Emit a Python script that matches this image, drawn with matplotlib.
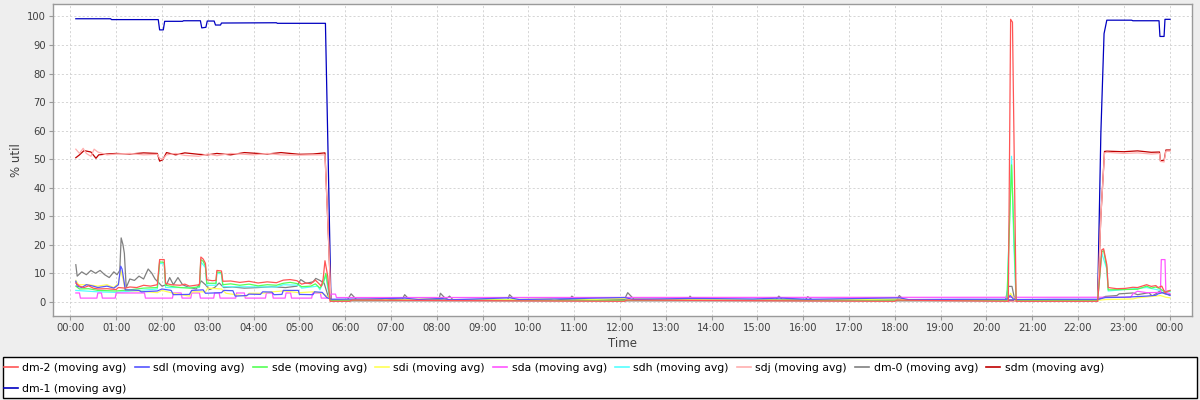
import matplotlib
matplotlib.use("Agg")
import matplotlib.pyplot as plt
from matplotlib.patches import Rectangle

# ---------------- data (hours since 00:00, % util) ----------------
series_names = ["dm-2", "sdl", "sde", "sdi", "sda", "sdh", "sdj", "dm-0", "sdm", "dm-1"]
series_colors = ["#FF5555", "#5555FF", "#55FF55", "#FFFF55", "#FF55FF",
                 "#55FFFF", "#FFAFAF", "#808080", "#C00000", "#0000C0"]

t_dm2 = [0.12, 0.2, 0.3, 0.4, 0.5, 0.6, 0.8, 1.0, 1.05, 1.2, 1.3, 1.45, 1.6, 1.75, 1.9, 1.95,
         2.05, 2.08, 2.2, 2.4, 2.5, 2.6, 2.82, 2.85, 2.9, 2.95, 2.98, 3.1, 3.18, 3.2, 3.3, 3.33,
         3.5, 3.7, 3.9, 4.1, 4.3, 4.5, 4.65, 4.8, 4.95, 5.05, 5.15, 5.25, 5.35, 5.42, 5.48,
         5.52, 5.56, 5.62, 5.67, 6.1, 6.15, 12.1, 12.15, 18.0, 18.05, 20.48, 20.53, 20.57,
         20.65, 22.43, 22.52, 22.56, 22.63, 22.66, 22.85, 23.03, 23.2, 23.3, 23.5, 23.6, 23.7,
         23.75, 23.83, 23.9, 23.95, 24.01]
v_dm2 = [6.6, 5.5, 5.0, 5.6, 4.8, 4.5, 4.6, 4.3, 5.0, 4.8, 5.2, 5.0, 5.8, 5.5, 6.0, 14.8,
         14.8, 6.5, 6.0, 5.8, 6.2, 5.5, 6.0, 15.7, 15.0, 13.5, 7.7, 7.4, 7.5, 11.0, 10.8, 7.2,
         7.3, 6.8, 7.2, 6.6, 7.0, 6.7, 7.6, 7.8, 7.4, 6.2, 6.6, 6.3, 7.6, 6.5, 5.5,
         8.0, 14.4, 9.0, 0.2, 0.2, 0.6, 0.2, 0.6, 0.2, 0.6, 0.2, 99.0, 98.0,
         0.2, 0.2, 18.2, 18.6, 13.0, 5.0, 4.6, 4.7, 5.1, 5.0, 6.0, 5.4, 5.7,
         5.0, 5.5, 3.2, 3.7, 4.0]

t_sdl = [0.12, 0.15, 0.25, 0.35, 0.5, 0.6, 0.8, 0.95, 1.05, 1.1, 1.13, 1.16, 1.2, 1.5, 1.55, 1.9,
         2.0, 2.2, 2.25, 2.6, 2.65, 2.9, 2.95, 3.3, 3.35, 3.55, 3.6, 3.85, 3.9, 4.15, 4.2, 4.4,
         4.45, 4.62, 4.65, 4.98, 5.0, 5.3, 5.33, 5.5, 5.6, 5.7, 6.5, 7.3, 7.6, 8.1, 8.3, 9.6,
         9.8, 10.9, 12.1, 12.3, 13.5, 14.9, 15.5, 16.1, 17.0, 18.1, 18.3, 19.5, 20.45, 20.52,
         20.6, 21.5, 22.45, 22.6, 23.0, 23.5, 23.7, 23.75, 23.85, 23.92, 24.01]
v_sdl = [7.2, 5.5, 5.0, 6.0, 5.5, 5.0, 5.5, 4.8, 6.0, 12.5, 11.5, 8.5, 4.2, 4.0, 3.5, 3.8,
         4.5, 4.0, 2.5, 2.6, 4.0, 4.2, 3.0, 3.2, 4.0, 3.9, 2.0, 2.2, 2.7, 2.6, 3.5, 3.4,
         2.5, 2.6, 4.0, 4.0, 2.6, 2.5, 3.5, 3.3, 1.5, 0.9, 1.0, 1.3, 0.8, 1.2, 0.7, 1.4,
         0.8, 1.1, 1.5, 0.8, 1.2, 1.0, 1.3, 0.9, 1.1, 1.4, 0.8, 0.9, 0.9, 2.2,
         0.8, 0.9, 0.9, 1.5, 1.6, 2.0, 2.3, 2.8, 3.2, 2.8, 2.2]

t_sde = [0.12, 0.2, 0.4, 0.6, 1.0, 1.3, 1.6, 1.9, 1.95, 2.05, 2.08, 2.25, 2.4, 2.6, 2.82, 2.85,
         2.9, 2.95, 2.98, 3.18, 3.2, 3.3, 3.33, 3.5, 3.7, 3.9, 4.1, 4.3, 4.5, 4.65, 4.8, 4.95,
         5.05, 5.25, 5.35, 5.45, 5.52, 5.58, 5.63, 5.68, 20.45, 20.55, 20.6, 20.65, 22.43,
         22.52, 22.56, 22.63, 22.66, 23.3, 23.5, 23.6, 23.7, 23.8, 23.9, 24.01]
v_sde = [5.5, 4.5, 4.6, 4.0, 3.8, 4.2, 4.8, 5.0, 14.0, 13.8, 5.8, 5.3, 5.0, 4.8, 5.3, 14.8,
         14.2, 12.5, 6.5, 6.5, 10.5, 10.2, 6.0, 6.3, 5.8, 6.2, 5.6, 6.0, 5.8, 6.5, 6.8, 6.4,
         5.3, 5.5, 6.3, 4.8, 6.5, 10.0, 5.0, 0.5, 0.5, 48.0, 25.0, 0.5, 0.5,
         17.5, 18.0, 12.0, 4.2, 4.4, 5.5, 4.8, 5.2, 4.5, 3.5, 3.8]

t_sdi = [0.12, 0.18, 0.4, 0.6, 0.8, 0.95, 1.05, 1.1, 1.15, 1.2, 1.5, 1.9, 2.0, 2.25, 2.6, 2.65,
         2.95, 3.0, 3.3, 3.4, 3.6, 3.85, 3.9, 4.2, 4.4, 4.65, 5.0, 5.3, 5.5, 5.6, 5.7, 6.8, 7.0,
         8.1, 8.3, 10.5, 10.7, 12.1, 12.3, 14.0, 16.0, 18.1, 18.3, 20.45, 20.53, 20.62, 22.43,
         22.6, 23.2, 23.3, 23.8, 23.92, 24.01]
v_sdi = [7.5, 6.0, 6.0, 5.5, 6.0, 5.0, 6.5, 11.0, 8.0, 4.0, 3.8, 3.2, 4.0, 3.0, 2.0, 3.5,
         3.5, 4.8, 4.5, 3.0, 2.5, 2.0, 3.0, 3.0, 3.5, 3.8, 3.2, 3.5, 3.0, 2.0, 0.6, 1.0, 0.5,
         1.2, 0.5, 1.0, 0.4, 1.2, 0.5, 0.8, 0.5, 1.0, 0.5, 0.5, 3.0, 0.5, 0.5,
         0.8, 1.0, 1.4, 2.2, 1.6, 1.4]

t_sda = [0.12, 0.2, 0.22, 0.58, 0.6, 0.68, 0.7, 0.98, 1.0, 1.62, 1.64, 2.23, 2.25, 2.42, 2.44,
         2.63, 2.65, 2.82, 2.84, 3.13, 3.15, 3.25, 3.27, 3.61, 3.63, 3.8, 3.82, 4.26, 4.28, 4.41,
         4.43, 4.69, 4.71, 4.81, 4.83, 5.27, 5.29, 5.46, 5.48, 5.67, 5.69, 5.79, 5.81, 22.45,
         23.15, 23.2, 23.3, 23.5, 23.8, 23.82, 23.9, 23.92, 24.01]
v_sda = [3.1, 3.1, 1.3, 1.3, 3.1, 3.1, 1.3, 1.3, 3.1, 3.1, 1.3, 1.3, 3.1, 3.1, 1.3,
         1.3, 3.1, 3.1, 1.3, 1.3, 3.1, 3.1, 1.3, 1.3, 3.1, 3.1, 1.3, 1.3, 3.1, 3.1,
         1.3, 1.3, 3.1, 3.1, 1.3, 1.3, 3.1, 3.1, 1.3, 1.3, 2.7, 2.7, 1.5, 1.6,
         1.6, 2.8, 3.7, 3.2, 3.3, 14.8, 14.8, 3.4, 2.8]

t_sdh = [0.12, 0.6, 1.0, 1.9, 1.95, 2.05, 2.08, 2.82, 2.85, 2.95, 2.98, 3.18, 3.2, 3.3, 3.33,
         4.5, 4.65, 5.0, 5.05, 5.4, 5.45, 5.58, 5.65, 5.69, 20.45, 20.55, 20.6, 20.65, 22.43,
         22.52, 22.63, 22.66, 23.5, 23.8, 24.01]
v_sdh = [4.0, 3.5, 3.3, 4.5, 13.5, 13.3, 5.0, 5.0, 14.0, 12.0, 5.8, 5.8, 10.0, 9.8, 5.3,
         5.2, 6.0, 5.8, 4.8, 5.5, 4.2, 9.0, 2.0, 0.4, 0.4, 51.0, 20.0, 0.4, 0.4,
         17.0, 11.5, 3.8, 5.0, 4.0, 3.5]

t_sdj = [0.12, 0.2, 0.28, 0.35, 0.45, 0.52, 0.6, 0.8, 1.0, 1.3, 1.6, 1.9, 1.95, 2.02, 2.1, 2.3,
         2.5, 2.8, 3.0, 3.2, 3.5, 3.8, 4.0, 4.3, 4.6, 5.0, 5.3, 5.56, 5.63, 5.69, 22.43, 22.5,
         22.58, 22.63, 23.0, 23.3, 23.6, 23.78, 23.8, 23.88, 23.92, 24.01]
v_sdj = [53.5, 52.0, 53.8, 52.0, 51.0, 53.5, 52.5, 51.5, 51.8, 52.0, 51.5, 51.7, 50.3, 50.0, 51.5,
         52.0, 51.3, 51.0, 51.8, 51.2, 52.0, 51.7, 51.5, 52.0, 51.5, 51.4, 51.5, 51.5, 25.0, 0.2,
         0.2, 30.0, 52.2, 52.4, 52.0, 52.2, 51.8, 52.0, 49.2, 49.0, 52.8, 52.8]

t_dm0 = [0.12, 0.15, 0.25, 0.35, 0.45, 0.55, 0.65, 0.75, 0.85, 0.95, 1.02, 1.08, 1.11, 1.15, 1.18,
         1.22, 1.3, 1.4, 1.5, 1.6, 1.7, 1.78, 1.85, 1.91, 2.0, 2.1, 2.17, 2.25, 2.35, 2.45, 2.6,
         2.75, 2.86, 2.95, 3.04, 3.15, 3.25, 3.35, 3.54, 3.8, 4.1, 4.4, 4.7, 4.95, 5.03, 5.15,
         5.3, 5.36, 5.45, 5.54, 5.64, 5.7, 6.05, 6.13, 6.25, 7.25, 7.3, 7.4, 8.05, 8.08, 8.2,
         8.28, 8.35, 9.55, 9.59, 9.7, 10.9, 10.95, 11.05, 12.1, 12.17, 12.3, 13.5, 13.53, 13.6,
         15.4, 15.47, 15.55, 16.05, 16.1, 16.2, 18.05, 18.1, 18.2, 20.42, 20.48, 20.56, 20.62,
         22.43, 22.6, 22.85, 22.9, 23.2, 23.3, 23.55, 23.62, 23.7, 23.78, 23.9, 24.01]
v_dm0 = [13.0, 9.0, 10.5, 9.5, 11.0, 10.0, 11.0, 9.5, 8.5, 10.5, 9.5, 11.0, 22.4, 20.0, 17.0,
         5.0, 8.0, 7.5, 9.0, 8.0, 11.5, 10.0, 8.0, 7.0, 5.5, 6.0, 8.5, 6.0, 8.5, 6.0, 5.0,
         4.5, 7.3, 6.0, 4.3, 5.0, 6.6, 5.0, 5.2, 4.8, 5.0, 5.3, 5.0, 5.5, 7.8, 6.5,
         7.0, 8.2, 7.5, 6.6, 1.4, 0.7, 0.7, 2.8, 0.8, 0.9, 2.5, 0.8, 0.9, 3.0, 1.0,
         2.0, 0.8, 0.8, 2.5, 0.8, 0.8, 2.0, 0.7, 0.9, 3.2, 1.0, 0.8, 2.0, 0.7,
         0.7, 2.0, 0.7, 0.7, 1.8, 0.7, 0.8, 2.2, 0.7, 0.7, 5.4, 5.4, 0.7,
         0.7, 1.9, 2.2, 2.8, 3.1, 2.5, 3.2, 2.0, 2.8, 3.7, 2.8, 2.5]

t_sdm = [0.12, 0.2, 0.3, 0.45, 0.56, 0.62, 0.8, 1.0, 1.3, 1.6, 1.9, 1.95, 2.02, 2.1, 2.3, 2.5,
         2.8, 3.0, 3.2, 3.5, 3.8, 4.0, 4.3, 4.6, 5.0, 5.3, 5.56, 5.63, 5.69, 22.43, 22.5, 22.58,
         22.63, 23.0, 23.3, 23.6, 23.78, 23.8, 23.88, 23.92, 24.01]
v_sdm = [50.5, 51.5, 53.0, 52.5, 50.3, 51.5, 51.8, 52.0, 51.8, 52.2, 52.0, 49.3, 49.8, 52.3, 51.5,
         52.2, 51.7, 51.5, 52.0, 51.5, 52.3, 52.1, 51.8, 52.3, 51.7, 51.8, 52.2, 25.0, 0.2, 0.2,
         30.0, 52.7, 52.8, 52.6, 52.9, 52.4, 52.5, 49.5, 49.5, 53.2, 53.2]

t_dm1 = [0.12, 0.88, 0.9, 1.92, 1.95, 2.03, 2.06, 2.45, 2.47, 2.84, 2.87, 2.96, 2.99, 3.14, 3.17,
         3.28, 3.3, 4.5, 4.52, 5.57, 5.63, 5.69, 22.43, 22.5, 22.57, 22.63, 23.17, 23.2, 23.77,
         23.79, 23.88, 23.9, 24.01]
v_dm1 = [99.2, 99.2, 98.9, 98.9, 95.3, 95.3, 98.3, 98.3, 98.5, 98.5, 96.0, 96.2, 98.4, 98.4, 97.0,
         97.0, 97.7, 97.8, 97.6, 97.6, 50.0, 0.6, 0.6, 59.0, 94.0, 98.7, 98.7, 98.5, 98.5,
         93.0, 93.0, 99.0, 99.0]

series_t = [t_dm2, t_sdl, t_sde, t_sdi, t_sda, t_sdh, t_sdj, t_dm0, t_sdm, t_dm1]
series_v = [v_dm2, v_sdl, v_sde, v_sdi, v_sda, v_sdh, v_sdj, v_dm0, v_sdm, v_dm1]

hour_ticks = list(range(0, 25))
hour_labels = ["%02d:00" % (h % 24) for h in hour_ticks]
y_ticks = list(range(0, 101, 10))

# ---------------- figure ----------------
fig = plt.figure(figsize=(12, 4), dpi=100, facecolor="#EEEEEE")
ax = fig.add_axes([53 / 1200, 1 - 316 / 400, (1192 - 53) / 1200, (316 - 4) / 400])
ax.set_facecolor("white")

n = len(series_names)
lines = []
for i, (name, col, t, v) in enumerate(zip(series_names, series_colors, series_t, series_v)):
    ln, = ax.plot(t, v, color=col, lw=0.9, label=name + " (moving avg)", zorder=10 + (n - i))
    lines.append(ln)

ax.set_xlim(-0.378, 24.49)
ax.set_ylim(-4.97, 104.37)
ax.set_xticks(hour_ticks)
ax.set_xticklabels(hour_labels)
ax.set_yticks(y_ticks)

ax.grid(True, color="#CFCFCF", lw=0.6, linestyle=(0, (2.5, 2.5)), zorder=0)
ax.set_axisbelow(True)

for s in ax.spines.values():
    s.set_color("#9A9A9A")
    s.set_linewidth(1.0)

ax.tick_params(axis="both", direction="out", length=3, width=0.8, color="#9A9A9A",
               labelsize=7.2, labelcolor="#404040", pad=2)

ax.set_xlabel("Time", fontsize=8.5, color="#404040")
ax.xaxis.set_label_coords(0.5, -0.066)
ax.set_ylabel("% util", fontsize=8.5, color="#404040")
ax.yaxis.set_label_coords(-0.026, 0.5)

# legend: first row of 9 items, second row dm-1
order = [0, 9, 1, 2, 3, 4, 5, 6, 7, 8]
leg = fig.legend([lines[k] for k in order], [lines[k].get_label() for k in order],
                 ncol=9, loc="upper left", bbox_to_anchor=(4 / 1200, 1 - 363 / 400),
                 frameon=False, fontsize=7.8, handlelength=1.3, handletextpad=0.4,
                 columnspacing=0.75, labelspacing=1.0, borderpad=0, borderaxespad=0)
for h in leg.legend_handles:
    h.set_linewidth(1.2)
fig.patches.append(Rectangle((3 / 1200, 2 / 400), 1194 / 1200, 41 / 400,
                             transform=fig.transFigure, facecolor="white",
                             edgecolor="black", lw=1.0, zorder=-1))

fig.savefig("out.png", dpi=100, facecolor=fig.get_facecolor())
